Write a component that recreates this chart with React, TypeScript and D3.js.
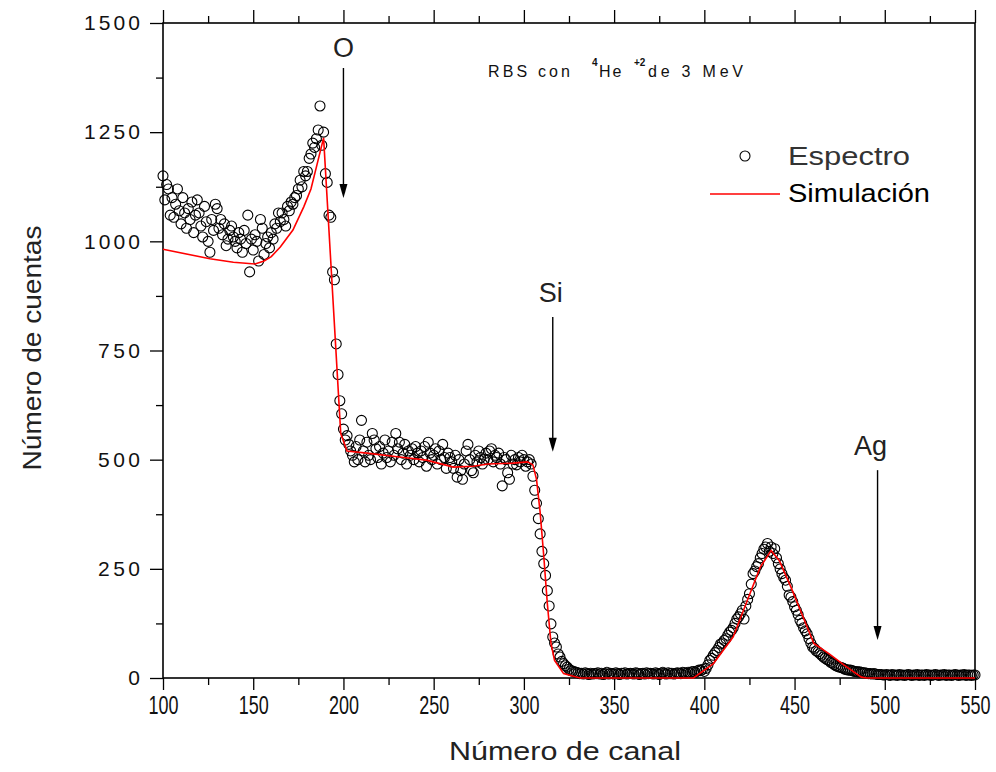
import React, { useEffect, useRef } from 'react';
import * as d3 from 'd3';

// RBS spectrum, one count per channel starting at channel 100
const firstChannel = 100;
const spectrumCounts = [
  1150, 1095, 1130, 1120, 1060, 1100, 1055, 1085, 1120, 1070,
  1040, 1100, 1065, 1030, 1075, 1050, 1090, 1020, 1060, 1095,
  1065, 1035, 1010, 1080, 1045, 1000, 975, 1050, 1025, 1085,
  1075, 1030, 1050, 1015, 1040, 990, 1005, 1025, 1035, 1010,
  1000, 985, 1020, 1005, 975, 1025, 995, 1060, 930, 1005,
  980, 1015, 1000, 955, 1050, 1030, 970, 995, 1010, 985,
  1020, 1005, 1040, 1030, 1065, 1045, 1065, 1050, 1035, 1080,
  1070, 1090, 1085, 1100, 1105, 1120, 1140, 1125, 1160, 1150,
  1160, 1190, 1200, 1225, 1215, 1235, 1255, 1310, 1220, 1250,
  1155, 1135, 1060, 1055, 930, 912, 765, 695, 635, 605,
  570, 545, 555, 535, 520, 510, 495, 530, 500, 545,
  590, 520, 495, 540, 510, 500, 560, 545, 525, 505,
  530, 490, 515, 545, 505, 520, 495, 540, 510, 560,
  525, 540, 500, 515, 535, 490, 520, 510, 525, 500,
  530, 515, 495, 520, 505, 530, 485, 540, 515, 500,
  510, 525, 490, 520, 500, 535, 505, 480, 515, 505,
  495, 480, 510, 460, 500, 475, 455, 490, 520, 535,
  500, 475, 470, 510, 495, 520, 505, 490, 500, 515,
  500, 520, 525, 495, 510, 505, 515, 490, 440, 505,
  500, 470, 455, 510, 490, 500, 488, 505, 495, 510,
  500, 485, 495, 500, 490, 462, 430, 400, 365, 330,
  290, 262, 235, 200, 165, 124, 94, 80, 71, 55,
  48, 38, 33, 28, 25, 20, 17, 16, 14, 13,
  12, 10, 11, 9, 12, 10, 8, 11, 9, 10,
  10, 12, 9, 11, 8, 10, 13, 9, 11, 10,
  9, 12, 10, 8, 11, 10, 12, 9, 10, 11,
  10, 9, 12, 11, 8, 10, 11, 9, 12, 10,
  11, 10, 9, 12, 10, 8, 11, 13, 10, 9,
  12, 10, 11, 9, 10, 12, 11, 10, 13, 12,
  11, 13, 12, 14, 15, 13, 16, 18, 17, 20,
  15, 22, 30, 40, 45, 52, 58, 63, 70, 78,
  80, 86, 90, 98, 105, 109, 115, 125, 135, 140,
  147, 155, 135, 165, 180, 193, 215, 239, 245, 255,
  262, 275, 285, 295, 300, 308, 290, 300, 285, 296,
  275, 262, 250, 239, 230, 224, 210, 190, 185, 175,
  163, 155, 145, 132, 125, 115, 108, 101, 90, 80,
  71, 68, 62, 60, 56, 52, 48, 45, 42, 40,
  36, 34, 31, 28, 26, 25, 24, 22, 20, 19,
  18, 18, 17, 15, 15, 14, 14, 13, 12, 12,
  11, 10, 10, 9, 10, 9, 8, 8, 8, 7,
  7, 8, 7, 6, 8, 7, 7, 6, 8, 7,
  7, 6, 7, 8, 7, 6, 7, 7, 8, 6,
  7, 7, 6, 8, 7, 7, 6, 7, 8, 7,
  6, 7, 7, 8, 6, 7, 7, 6, 7, 8,
  7, 6, 7, 7, 8, 6, 7, 7, 6, 7,
  7,
];

// simulated spectrum (red curve)
const simChannels = [100, 126, 139, 151, 156, 160, 165, 172, 178, 182, 185, 189, 198.5, 202, 213, 231, 246, 261, 272, 280, 294, 302, 305, 307, 309, 311, 313, 315, 317, 322, 331, 394, 405, 416, 424.5, 431, 437, 441.5, 448, 454, 460.7, 469, 477.7, 487, 490, 550];
const simCounts = [982, 960, 952, 948, 955, 965, 987, 1026, 1079, 1120, 1170, 1237, 560, 520, 515, 506, 499, 483, 485, 490, 492, 495, 488, 455, 380, 280, 170, 80, 40, 10, 0, 0, 33, 94, 185, 254, 292, 269, 208, 147, 79, 56, 29, 2, 0, 0];

const xMajor = [100, 150, 200, 250, 300, 350, 400, 450, 500, 550];
const xMinor = [125, 175, 225, 275, 325, 375, 425, 475, 525];
const yMajor = [0, 250, 500, 750, 1000, 1250, 1500];
const yMinor = [125, 375, 625, 875, 1125, 1375];

// element edges marked with arrows
const edgeLabels = ['O', 'Si', 'Ag'];
const edgeChannels = [200, 316, 496];
const edgeArrowFrom = [1397, 827, 476];
const edgeArrowTo = [1099, 518, 87];
const edgeLabelAt = [1438, 878, 528];

const W = 996;
const H = 772;
const FONT = '"Liberation Sans", Arial, sans-serif';

export default function App() {
  const ref = useRef<SVGGElement>(null);

  useEffect(() => {
    const root = d3.select(ref.current);
    root.selectAll('*').remove();

    const x = d3.scaleLinear().domain([100, 550]).range([163, 975]);
    const y = d3.scaleLinear().domain([0, 1500]).range([678, 23]);

    const axes = root.append('g').attr('font-family', FONT);

    // bottom
    axes.append('g').attr('transform', `translate(0,${y(0)})`)
      .call(d3.axisBottom(x).tickValues(xMajor).tickSize(12).tickPadding(6).tickFormat(d3.format('d')))
      .call(g => g.selectAll('text')
        .attr('font-size', 25).attr('fill', '#111')
        .attr('textLength', 30).attr('lengthAdjust', 'spacingAndGlyphs'));
    axes.append('g').attr('transform', `translate(0,${y(0)})`)
      .call(d3.axisBottom(x).tickValues(xMinor).tickSize(7).tickFormat(() => ''));
    // top
    axes.append('g').attr('transform', `translate(0,${y(1500)})`)
      .call(d3.axisTop(x).tickValues(xMajor).tickSize(13).tickFormat(() => ''));
    axes.append('g').attr('transform', `translate(0,${y(1500)})`)
      .call(d3.axisTop(x).tickValues(xMinor).tickSize(7).tickFormat(() => ''));
    // left
    axes.append('g').attr('transform', `translate(${x(100)},0)`)
      .call(d3.axisLeft(y).tickValues(yMajor).tickSize(13).tickPadding(10).tickFormat(d3.format('d')))
      .call(g => g.selectAll<SVGTextElement, number>('text')
        .attr('font-size', 21).attr('fill', '#111')
        .attr('textLength', d => String(d).length * 14)
        .attr('lengthAdjust', 'spacing'));
    axes.append('g').attr('transform', `translate(${x(100)},0)`)
      .call(d3.axisLeft(y).tickValues(yMinor).tickSize(7).tickFormat(() => ''));

    axes.selectAll('.tick line').attr('stroke-width', 1.3);
    axes.selectAll('.domain').remove();
    axes.append('rect')
      .attr('x', x(100)).attr('y', y(1500))
      .attr('width', x(550) - x(100)).attr('height', y(0) - y(1500))
      .attr('fill', 'none').attr('stroke', '#000').attr('stroke-width', 1.6);

    // spectrum points
    root.append('g').selectAll('circle')
      .data(spectrumCounts)
      .join('circle')
      .attr('cx', (d, i) => x(firstChannel + i))
      .attr('cy', d => y(d))
      .attr('r', 5)
      .attr('fill', 'none')
      .attr('stroke', '#000')
      .attr('stroke-width', 1.1);

    // simulation
    const line = d3.line<number>()
      .x((d, i) => x(simChannels[i]))
      .y(d => y(d));
    root.append('path')
      .attr('d', line(simCounts))
      .attr('fill', 'none')
      .attr('stroke', '#ff0000')
      .attr('stroke-width', 1.6);

    // arrows for element edges
    const marks = root.append('g').attr('font-family', FONT);
    edgeLabels.forEach((lab, i) => {
      const cx = x(edgeChannels[i]);
      const tip = y(edgeArrowTo[i]);
      marks.append('line')
        .attr('x1', cx).attr('x2', cx)
        .attr('y1', y(edgeArrowFrom[i])).attr('y2', tip - 6)
        .attr('stroke', '#000').attr('stroke-width', 1.4);
      marks.append('path')
        .attr('d', `M${cx - 4},${tip - 14}L${cx + 4},${tip - 14}L${cx + 1.5},${tip - 5}L${cx},${tip}L${cx - 1.5},${tip - 5}Z`)
        .attr('fill', '#000');
      marks.append('text')
        .attr('x', cx - (lab === 'Ag' ? 7 : (lab === 'Si' ? 2 : 0)))
        .attr('y', y(edgeLabelAt[i]))
        .attr('text-anchor', 'middle')
        .attr('dominant-baseline', 'middle')
        .attr('font-size', 27)
        .attr('fill', '#222')
        .text(lab);
    });
  }, []);

  return (
    <svg
      width={W}
      height={H}
      style={{ position: 'absolute', left: 0, top: 0, background: '#fff' }}
    >
      <g ref={ref} />
      <g fontFamily={FONT}>
        <text x={488} y={77} fontSize={16} fill="#111" textLength={82} lengthAdjust="spacing">RBS con</text>
        <text x={592} y={66} fontSize={10} fontWeight="bold" fill="#111">4</text>
        <text x={599} y={77} fontSize={16} fill="#111" letterSpacing={2}>He</text>
        <text x={634} y={66} fontSize={10} fontWeight="bold" fill="#111">+2</text>
        <text x={648} y={77} fontSize={16} fill="#111" textLength={95} lengthAdjust="spacing">de 3 MeV</text>

        <circle cx={745} cy={156} r={5} fill="none" stroke="#000" strokeWidth={1.1} />
        <text x={788} y={165} fontSize={25} fill="#333" textLength={122} lengthAdjust="spacingAndGlyphs">Espectro</text>
        <line x1={710} x2={780} y1={194} y2={194} stroke="#ff0000" strokeWidth={1.6} />
        <text x={788} y={202} fontSize={25} fill="#000" textLength={142} lengthAdjust="spacingAndGlyphs">Simulación</text>

        <text x={565} y={760} fontSize={26} textAnchor="middle" fill="#222" textLength={232} lengthAdjust="spacingAndGlyphs">Número de canal</text>
        <text transform="translate(41,348) rotate(-90)" fontSize={26} textAnchor="middle" fill="#222" textLength={245} lengthAdjust="spacingAndGlyphs">Número de cuentas</text>
      </g>
    </svg>
  );
}
